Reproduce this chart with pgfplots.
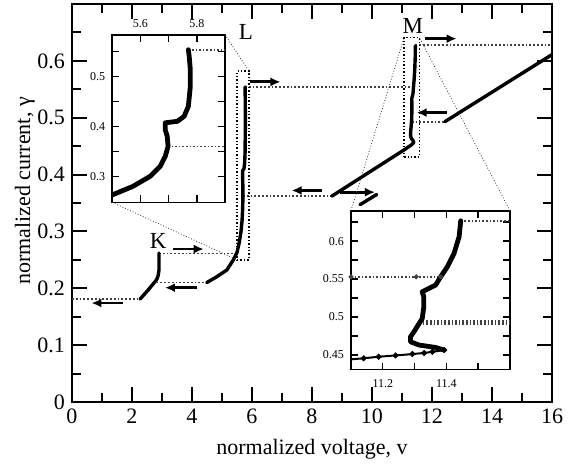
\documentclass[border=0pt]{standalone}
\usepackage{fontspec}
\setmainfont{Liberation Serif}
\usepackage{pgfplots}
\pgfplotsset{compat=1.18}
\usetikzlibrary{calc,arrows.meta}

\tikzset{
  curve/.style={line width=1.7pt, black, line join=round, line cap=round},
  dots/.style={densely dotted, line width=0.9pt, black!75},
  arr/.style={line width=1.4pt, black, -{Latex[length=5pt,width=4.5pt]}},
  conn/.style={densely dotted, line width=0.4pt, black!80},
}

\begin{document}
\begin{tikzpicture}
\begin{axis}[
  name=main,
  scale only axis, width=240pt, height=199pt,
  xmin=0, xmax=16, ymin=0, ymax=0.7,
  xtick={0,2,4,6,8,10,12,14,16}, minor xtick={1,3,5,7,9,11,13,15},
  ytick={0,0.1,0.2,0.3,0.4,0.5,0.6}, minor ytick={0.05,0.15,0.25,0.35,0.45,0.55,0.65},
  tick align=inside, major tick length=7.5pt, minor tick length=4.5pt,
  axis line style={line width=1.3pt},
  every tick/.style={line width=1pt, black},
  /pgf/number format/assume math mode=true,
  tick label style={font=\fontsize{11}{12}\selectfont},
  xlabel={normalized voltage, v},
  ylabel={normalized current, γ},
  label style={font=\fontsize{11}{12}\selectfont},
  xlabel style={at={(axis description cs:0.5,-0.12)}, anchor=center},
  ylabel style={at={(axis description cs:-0.098,0.53)}, anchor=center},
  clip=true,
]
% dotted transitions
\addplot[dots] coordinates {(0,0.181) (2.27,0.181)};
\addplot[dots] coordinates {(2.9,0.261) (5.5,0.261)};
\addplot[dots] coordinates {(2.82,0.21) (4.49,0.21)};
\addplot[dots] coordinates {(5.77,0.554) (11.38,0.554)};
\addplot[dots] coordinates {(5.698,0.362) (8.66,0.362)};
\addplot[dots] coordinates {(11.445,0.628) (16,0.628)};
\addplot[dots] coordinates {(11.326,0.493) (12.43,0.493)};
% zoom boxes
\addplot[densely dotted, line width=0.7pt] coordinates {(5.5,0.25) (5.9,0.25) (5.9,0.582) (5.5,0.582) (5.5,0.25)};
\addplot[densely dotted, line width=0.7pt] coordinates {(11.07,0.431) (11.58,0.431) (11.58,0.641) (11.07,0.641) (11.07,0.431)};
% thick curves
\addplot[curve] coordinates {(2.9,0.262) (2.9,0.232) (2.87,0.222) (2.82,0.215) (2.54,0.197) (2.27,0.181)};
\addplot[curve] coordinates {(4.49,0.21) (4.82,0.22) (5.16,0.232) (5.38,0.25) (5.5,0.263) (5.573,0.280) (5.634,0.300) (5.670,0.320) (5.688,0.340) (5.698,0.36) (5.695,0.38) (5.688,0.393) (5.688,0.407) (5.731,0.41) (5.755,0.42) (5.77,0.44) (5.777,0.48) (5.777,0.513) (5.773,0.54) (5.77,0.554)};
\addplot[curve] coordinates {(8.66,0.362) (11.098,0.4443) (11.187,0.4478) (11.293,0.4513) (11.356,0.4543) (11.393,0.4566) (11.366,0.460) (11.314,0.4632) (11.287,0.4675) (11.287,0.474) (11.298,0.4807) (11.311,0.4895) (11.324,0.498) (11.329,0.5136) (11.329,0.5267) (11.324,0.5333) (11.345,0.5378) (11.366,0.5421) (11.382,0.553) (11.403,0.5662) (11.424,0.5838) (11.44,0.6057) (11.445,0.6267)};
\addplot[curve] coordinates {(12.43,0.493) (16,0.611)};
\addplot[curve] coordinates {(9.6,0.347) (10.16,0.365)};
% arrows
\addplot[arr] coordinates {(1.7,0.174) (0.65,0.174)};
\addplot[arr] coordinates {(3.36,0.269) (4.39,0.269)};
\addplot[arr] coordinates {(4.18,0.201) (3.1,0.201)};
\addplot[arr] coordinates {(5.93,0.563) (6.95,0.563)};
\addplot[arr] coordinates {(8.32,0.372) (7.32,0.372)};
\addplot[arr] coordinates {(8.93,0.369) (10.1,0.369)};
\addplot[arr] coordinates {(11.77,0.639) (12.82,0.639)};
\addplot[arr] coordinates {(12.49,0.509) (11.49,0.509)};
% letters
\node[font=\fontsize{11.5}{12}\selectfont] at (axis cs:2.87,0.283) {K};
\node[font=\fontsize{11.5}{12}\selectfont] at (axis cs:5.8,0.65) {L};
\node[font=\fontsize{11.5}{12}\selectfont] at (axis cs:11.36,0.661) {M};
% anchor coordinates
\coordinate (Lsw) at (axis cs:1.343,0.351);
\coordinate (Msw) at (axis cs:9.3,0.0571);
\coordinate (Lbtr) at (axis cs:5.9,0.582);
\coordinate (Lbbl) at (axis cs:5.5,0.25);
\coordinate (Mbtl) at (axis cs:11.07,0.641);
\coordinate (Mbtr) at (axis cs:11.58,0.641);
\end{axis}

% inset L
\begin{axis}[
  at={(Lsw)}, anchor=south west,
  scale only axis, width=56.35pt, height=83.85pt,
  xmin=5.5, xmax=5.9, ymin=0.248, ymax=0.583,
  xtick={5.6,5.8}, minor xtick={5.7},
  ytick={0.3,0.4,0.5}, minor ytick={0.35,0.45,0.55},
  xticklabel pos=upper,
  tick align=inside, major tick length=3.5pt, minor tick length=3.5pt,
  axis line style={line width=0.9pt},
  every tick/.style={line width=0.7pt, black},
  axis background/.style={fill=white},
  /pgf/number format/assume math mode=true,
  tick label style={font=\fontsize{6}{7}\selectfont},
]
\addplot[dots, line width=0.8pt] coordinates {(5.77,0.553) (5.9,0.553)};
\addplot[dots, line width=0.8pt] coordinates {(5.698,0.36) (5.9,0.36)};
\addplot[line width=2.4pt, black, line join=round, line cap=round] coordinates {(5.5,0.263) (5.573,0.280) (5.634,0.300) (5.670,0.320) (5.688,0.340) (5.698,0.36) (5.695,0.38) (5.688,0.393) (5.688,0.407) (5.731,0.41) (5.755,0.42) (5.77,0.44) (5.777,0.48) (5.777,0.513) (5.773,0.54) (5.77,0.553)};
\coordinate (iLne) at (rel axis cs:1,1);
\coordinate (iLsw) at (rel axis cs:0,0);
\end{axis}

% inset M
\begin{axis}[
  at={(Msw)}, anchor=south west,
  scale only axis, width=79.5pt, height=79.4pt,
  xmin=11.1, xmax=11.6, ymin=0.431, ymax=0.64,
  xtick={11.2,11.4}, minor xtick={11.3,11.5},
  ytick={0.45,0.5,0.55,0.6}, minor ytick={0.475,0.525,0.575,0.625},
  tick align=inside, major tick length=3.5pt, minor tick length=3.5pt,
  axis line style={line width=0.9pt},
  every tick/.style={line width=0.7pt, black},
  axis background/.style={fill=white},
  /pgf/number format/assume math mode=true,
  tick label style={font=\fontsize{6}{7}\selectfont},
  xticklabel style={yshift=-1.5pt},
]
\addplot[dots, line width=0.8pt] coordinates {(11.445,0.6267) (11.6,0.6267)};
\addplot[dots, line width=0.8pt, mark=*, mark size=0.8pt, mark options={solid}] coordinates {(11.1,0.553) (11.305,0.553) (11.382,0.553)};
\addplot[dots, line width=0.8pt] coordinates {(11.326,0.4900) (11.6,0.4900)};
\addplot[dots, line width=0.8pt] coordinates {(11.326,0.4925) (11.6,0.4925)};
\addplot[dots, line width=0.8pt] coordinates {(11.326,0.4950) (11.6,0.4950)};
\addplot[line width=1pt, black, mark=*, mark size=0.9pt] coordinates {(11.098,0.4443) (11.14,0.4458) (11.187,0.4478) (11.24,0.4495) (11.293,0.4513) (11.33,0.4528) (11.356,0.4543) (11.393,0.4566)};
\addplot[line width=2.4pt, black, line join=round, line cap=round] coordinates {(11.393,0.4566) (11.366,0.460) (11.314,0.4632) (11.287,0.4675) (11.287,0.474) (11.298,0.4807) (11.311,0.4895) (11.324,0.498) (11.329,0.5136) (11.329,0.5267) (11.324,0.5333) (11.345,0.5378) (11.366,0.5421) (11.382,0.553) (11.403,0.5662) (11.424,0.5838) (11.44,0.6057) (11.445,0.6267)};
\coordinate (iMnw) at (rel axis cs:0,1);
\coordinate (iMne) at (rel axis cs:1,1);
\end{axis}

\draw[conn] (iLne) -- (Lbtr);
\draw[conn] (iLsw) -- (Lbbl);
\draw[conn] (iMnw) -- (Mbtl);
\draw[conn] (iMne) -- (Mbtr);

\pgfresetboundingbox
\path[use as bounding box] ($(main.south west)+(-36pt,-31pt)$) rectangle ($(main.north east)+(11pt,2pt)$);
\end{tikzpicture}
\end{document}
